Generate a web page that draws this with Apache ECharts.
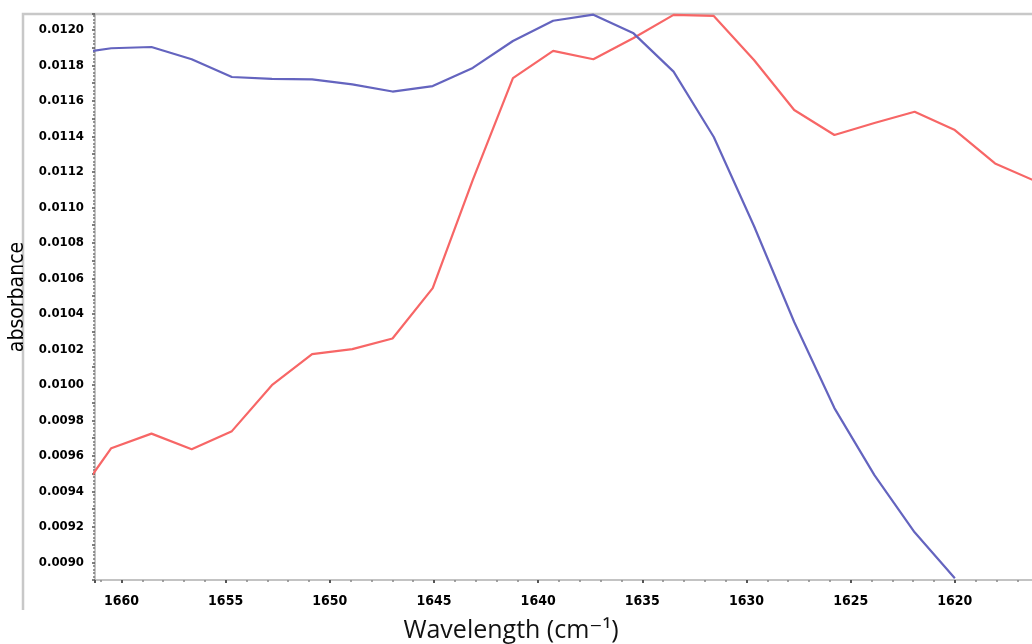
<!DOCTYPE html>
<html>
<head>
<meta charset="utf-8">
<script src="https://cdn.jsdelivr.net/npm/echarts@6/dist/echarts.min.js"></script>
<style>
  html, body { margin: 0; padding: 0; background: #ffffff; }
  #chart { width: 1032px; height: 644px; }
</style>
</head>
<body>
<div id="chart"></div>
<script>
// Wavenumbers (cm-1) of the sampled spectrum points
const wavenumbers = [1662.42, 1660.49, 1658.56, 1656.63, 1654.70, 1652.78, 1650.85, 1648.92,
  1646.99, 1645.06, 1643.14, 1641.21, 1639.28, 1637.35, 1635.42, 1633.50, 1631.57, 1629.64,
  1627.71, 1625.78, 1623.86, 1621.93, 1620.00, 1618.07, 1616.15];

// Blue spectrum (ends at 1620)
const blueValues = [0.011865, 0.011897, 0.011904, 0.011835, 0.011735, 0.011724, 0.011722, 0.011693,
  0.011653, 0.011684, 0.011786, 0.011938, 0.012052, 0.012086, 0.011981, 0.011765, 0.011397, 0.010895,
  0.010354, 0.009869, 0.009491, 0.009169, 0.008910];

// Red spectrum
const redValues = [0.009322, 0.009643, 0.009725, 0.009637, 0.009739, 0.009998, 0.010173, 0.010201,
  0.010261, 0.010545, 0.011154, 0.011729, 0.011882, 0.011835, 0.011955, 0.012085, 0.012079, 0.011831,
  0.011549, 0.011408, 0.011476, 0.011539, 0.011436, 0.011248, 0.011149];

const xTickLabels = [1660, 1655, 1650, 1645, 1640, 1635, 1630, 1625, 1620];
const yTickLabels = ['0.0090','0.0092','0.0094','0.0096','0.0098','0.0100','0.0102','0.0104',
  '0.0106','0.0108','0.0110','0.0112','0.0114','0.0116','0.0118','0.0120'];

const yAxisTitle = 'absorbance';
const xAxisTitle = 'Wavelength (cm\u207B\u00B9)';

function pairs(xs, ys) {
  return ys.map((v, i) => [xs[i], v]);
}

const tickFont = '"Liberation Sans Narrow", "DejaVu Sans Condensed", "Liberation Sans", sans-serif';

const chart = echarts.init(document.getElementById('chart'), null, { renderer: 'canvas' });
chart.setOption({
  animation: false,
  backgroundColor: '#ffffff',
  grid: { left: 95, top: 14, right: -27, bottom: 64, containLabel: false, outerBoundsMode: 'none' },
  xAxis: {
    type: 'value',
    inverse: true,
    min: 1615,
    max: 1661.27,
    interval: 5,
    axisLine: { show: true, lineStyle: { color: '#b0b0b0', width: 1.5 } },
    axisTick: { show: true, length: 3, inside: false, lineStyle: { color: '#555', width: 2 } },
    minorTick: { show: true, splitNumber: 5, length: 2, lineStyle: { color: '#888', width: 1.5 } },
    splitLine: { show: false },
    axisLabel: {
      margin: 14,
      color: '#000',
      fontFamily: tickFont,
      fontWeight: 'bold',
      fontSize: 14,
      formatter: function (v) {
        const r = Math.round(v);
        if (Math.abs(v - r) > 0.01) return '';
        return xTickLabels.indexOf(r) >= 0 ? String(r) : '';
      }
    }
  },
  yAxis: {
    type: 'value',
    min: 0.0089,
    max: 0.01209,
    interval: 0.0001,
    name: yAxisTitle,
    nameLocation: 'middle',
    nameRotate: 90,
    nameGap: 64,
    nameTextStyle: { color: '#000', fontSize: 21, fontFamily: tickFont },
    axisLine: { show: true, lineStyle: { color: '#b0b0b0', width: 1.5 } },
    axisTick: { show: true, length: 3, lineStyle: { color: '#555', width: 1.5 } },
    minorTick: { show: true, splitNumber: 5, length: 2, lineStyle: { color: '#777', width: 1.5 } },
    splitLine: { show: false },
    axisLabel: {
      margin: 11,
      color: '#000',
      fontFamily: tickFont,
      fontWeight: 'bold',
      fontSize: 13,
      formatter: function (v) {
        const s = v.toFixed(4);
        return yTickLabels.indexOf(s) >= 0 && Math.abs(v / 0.0002 - Math.round(v / 0.0002)) < 0.01 ? s : '';
      }
    }
  },
  series: [
    {
      type: 'line',
      data: pairs(wavenumbers, blueValues),
      showSymbol: false,
      clip: true,
      lineStyle: { color: '#6464bf', width: 2.2 },
      z: 3
    },
    {
      type: 'line',
      data: pairs(wavenumbers, redValues),
      showSymbol: false,
      clip: true,
      lineStyle: { color: '#f76666', width: 2.2 },
      z: 2
    }
  ],
  graphic: [
    {
      type: 'polyline',
      silent: true,
      z: 0,
      shape: { points: [[23, 610], [23, 14], [1032, 14]] },
      style: { stroke: '#c8c8c8', lineWidth: 2.5, fill: null }
    },
    {
      type: 'text',
      silent: true,
      style: {
        text: xAxisTitle,
        x: 511,
        y: 631,
        align: 'center',
        verticalAlign: 'middle',
        font: '25px "Open Sans", "DejaVu Sans", sans-serif',
        fill: '#111'
      }
    }
  ]
});
</script>
</body>
</html>
